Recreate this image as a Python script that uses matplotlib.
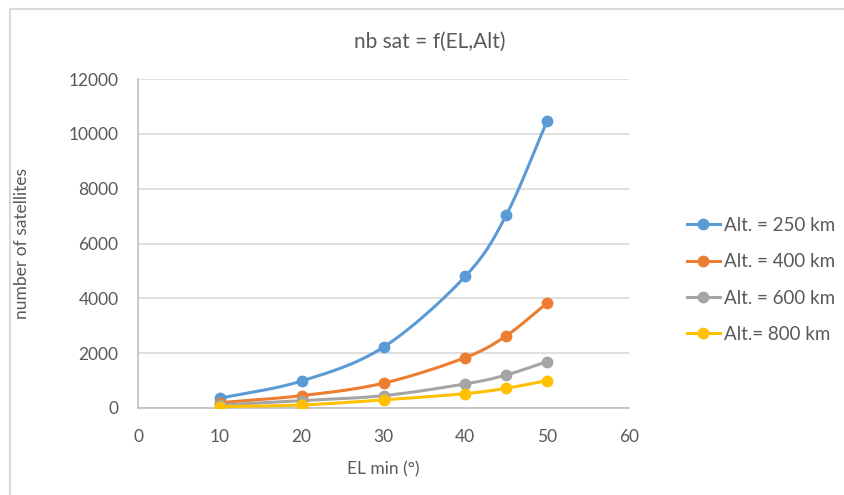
import matplotlib.pyplot as plt
from matplotlib.lines import Line2D
import numpy as np

plt.rcParams['font.family'] = ['Lato', 'DejaVu Sans']

el_min = [10, 20, 30, 40, 45, 50]
alt_250 = [355, 985, 2220, 4805, 7035, 10475]
alt_400 = [195, 450, 905, 1840, 2635, 3830]
alt_600 = [110, 270, 450, 880, 1205, 1695]
alt_800 = [50, 110, 295, 525, 720, 1000]

series = [
    ('Alt. = 250 km', alt_250, '#5B9BD5'),
    ('Alt. = 400 km', alt_400, '#ED7D31'),
    ('Alt. = 600 km', alt_600, '#A5A5A5'),
    ('Alt.= 800 km', alt_800, '#FFC000'),
]

txt = '#595959'


def smooth(x, y, n=30):
    # catmull-rom curve through the points, like a spreadsheet "smoothed line"
    x = np.asarray(x, float)
    y = np.asarray(y, float)
    px = np.concatenate([[2 * x[0] - x[1]], x, [2 * x[-1] - x[-2]]])
    py = np.concatenate([[2 * y[0] - y[1]], y, [2 * y[-1] - y[-2]]])
    xs, ys = [], []
    t = np.linspace(0, 1, n)
    for i in range(1, len(px) - 2):
        for p, out in ((px, xs), (py, ys)):
            p0, p1, p2, p3 = p[i - 1], p[i], p[i + 1], p[i + 2]
            out.extend(0.5 * (2 * p1 + (-p0 + p2) * t
                              + (2 * p0 - 5 * p1 + 4 * p2 - p3) * t ** 2
                              + (-p0 + 3 * p1 - 3 * p2 + p3) * t ** 3))
    return np.array(xs), np.array(ys)


fig = plt.figure(figsize=(8.45, 4.95), dpi=100)
ax = fig.add_axes([138 / 845, 1 - 408 / 495, (629 - 138) / 845, (408 - 79) / 495])

handles = []
for name, vals, col in series:
    sx, sy = smooth(el_min, vals)
    ax.plot(sx, sy, color=col, lw=2.2, solid_capstyle='round', zorder=3)
    ax.plot(el_min, vals, 'o', color=col, ms=7.5, zorder=4)
    handles.append(Line2D([], [], color=col, lw=2.2, marker='o', ms=7.5))

ax.set_xlim(0, 60)
ax.set_ylim(0, 12000)
ax.set_xticks(range(0, 61, 10))
ax.set_yticks(range(0, 12001, 2000))
ax.yaxis.grid(True, color='#D9D9D9', lw=1.2)
ax.set_axisbelow(True)
ax.tick_params(length=0, labelsize=12.5, colors=txt)
ax.tick_params(axis='y', pad=14)
ax.tick_params(axis='x', pad=15)
for s in ['top', 'right']:
    ax.spines[s].set_visible(False)
for s in ['left', 'bottom']:
    ax.spines[s].set_color('#BFBFBF')
    ax.spines[s].set_linewidth(1.2)

ax.set_xlabel('EL min (°)', fontsize=12.5, color=txt, labelpad=12)
ax.set_ylabel('number of satellites', fontsize=12.5, color=txt, labelpad=28)
fig.text(430 / 845, 1 - 42 / 495, 'nb sat = f(EL,Alt)', ha='center', va='center',
         fontsize=15, color=txt)

fig.legend(handles, [s[0] for s in series], loc='center left',
           bbox_to_anchor=(687 / 845, 1 - 280 / 495), frameon=False,
           fontsize=13.5, labelcolor=txt, handlelength=1.75, handletextpad=0.2,
           labelspacing=1.03, borderaxespad=0, borderpad=0)

# chart frame, only the top and left edges fall inside the image
fig.add_artist(Line2D([10 / 845, 10 / 845, 1], [0, 1 - 9 / 495, 1 - 9 / 495],
                      color='#D9D9D9', lw=1.5, transform=fig.transFigure))

fig.savefig('out.png', dpi=100)
